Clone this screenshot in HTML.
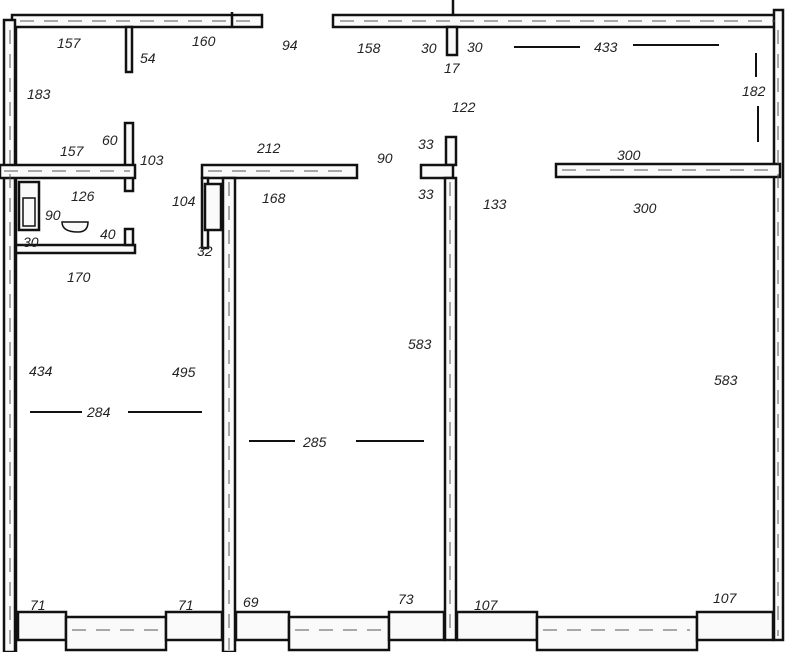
<!DOCTYPE html>
<html><head><meta charset="utf-8"><style>
html,body{margin:0;padding:0;background:#fff;width:800px;height:652px;overflow:hidden}
svg text{font-family:"Liberation Sans",sans-serif;font-style:italic;font-size:14px;fill:#222}
</style></head><body>
<svg width="800" height="652" viewBox="0 0 800 652" xmlns="http://www.w3.org/2000/svg">
<g fill="#fafafa" stroke="#111" stroke-width="2.5">
<rect x="12" y="15" width="250" height="12"/>
<rect x="333" y="15" width="447" height="12"/>
<line x1="453" y1="0" x2="453" y2="15"/>
<line x1="232" y1="12" x2="232" y2="28"/>
<rect x="4" y="20" width="11" height="632"/>
<line x1="16" y1="27" x2="16" y2="652"/>
<rect x="774" y="10" width="9" height="630"/>
<rect x="126" y="27" width="6" height="45"/>
<rect x="125" y="123" width="8" height="68"/>
<rect x="447" y="27" width="10" height="28"/>
<rect x="446" y="137" width="10" height="28"/>
<rect x="0" y="165" width="135" height="13"/>
<rect x="16" y="245" width="119" height="8"/>
<rect x="125" y="229" width="8" height="16"/>
<rect x="202" y="165" width="155" height="13"/>
<rect x="421" y="165" width="32" height="13"/>
<rect x="556" y="164" width="224" height="13"/>
<rect x="223" y="178" width="12" height="474"/>
<rect x="445" y="178" width="11" height="462"/>
<rect x="202" y="178" width="6" height="70"/>
<rect x="19" y="182" width="20" height="48"/>
<rect x="23" y="198" width="12" height="28" stroke-width="1.5"/>
<rect x="205" y="184" width="16" height="46"/>
<path d="M62 222 Q62 232 78 232 Q88 232 88 222 Z" stroke-width="1.5"/>
<rect x="18" y="612" width="48" height="28"/>
<rect x="66" y="617" width="100" height="33"/>
<rect x="166" y="612" width="56" height="28"/>
<rect x="236" y="612" width="53" height="28"/>
<rect x="289" y="617" width="100" height="33"/>
<rect x="389" y="612" width="55" height="28"/>
<rect x="457" y="612" width="80" height="28"/>
<rect x="537" y="617" width="160" height="33"/>
<rect x="697" y="612" width="76" height="28"/>
</g>
<g stroke="#555" stroke-width="1" stroke-dasharray="14 10">
<line x1="20" y1="21" x2="258" y2="21"/><line x1="340" y1="21" x2="775" y2="21"/>
<line x1="4" y1="171" x2="130" y2="171"/><line x1="208" y1="171" x2="352" y2="171"/>
<line x1="562" y1="170" x2="775" y2="170"/>
<line x1="10" y1="30" x2="10" y2="650"/><line x1="229" y1="182" x2="229" y2="650"/>
<line x1="450" y1="182" x2="450" y2="636"/><line x1="778" y1="30" x2="778" y2="636"/>
<line x1="72" y1="630" x2="160" y2="630"/><line x1="295" y1="630" x2="383" y2="630"/>
<line x1="543" y1="630" x2="690" y2="630"/>
</g>
<g stroke="#111" stroke-width="2">
<line x1="30" y1="412" x2="82" y2="412"/><line x1="128" y1="412" x2="202" y2="412"/>
<line x1="249" y1="441" x2="295" y2="441"/><line x1="356" y1="441" x2="424" y2="441"/>
<line x1="514" y1="47" x2="580" y2="47"/><line x1="633" y1="45" x2="719" y2="45"/>
<line x1="756" y1="53" x2="756" y2="77"/><line x1="758" y1="106" x2="758" y2="142"/>
</g>
<text x="57" y="48">157</text><text x="140" y="63">54</text><text x="192" y="46">160</text>
<text x="282" y="50">94</text><text x="357" y="53">158</text><text x="421" y="53">30</text>
<text x="467" y="52">30</text><text x="444" y="73">17</text><text x="594" y="52">433</text>
<text x="27" y="99">183</text><text x="742" y="96">182</text><text x="452" y="112">122</text>
<text x="102" y="145">60</text><text x="60" y="156">157</text><text x="140" y="165">103</text>
<text x="257" y="153">212</text><text x="377" y="163">90</text><text x="418" y="149">33</text>
<text x="617" y="160">300</text><text x="418" y="199">33</text><text x="71" y="201">126</text>
<text x="172" y="206">104</text><text x="262" y="203">168</text><text x="483" y="209">133</text>
<text x="633" y="213">300</text><text x="45" y="220">90</text><text x="100" y="239">40</text>
<text x="23" y="247">30</text><text x="197" y="256">32</text><text x="67" y="282">170</text>
<text x="408" y="349">583</text><text x="29" y="376">434</text><text x="172" y="377">495</text>
<text x="714" y="385">583</text><text x="87" y="417">284</text><text x="303" y="447">285</text>
<text x="30" y="610">71</text><text x="178" y="610">71</text><text x="243" y="607">69</text>
<text x="398" y="604">73</text><text x="474" y="610">107</text><text x="713" y="603">107</text>
</svg>
</body></html>
